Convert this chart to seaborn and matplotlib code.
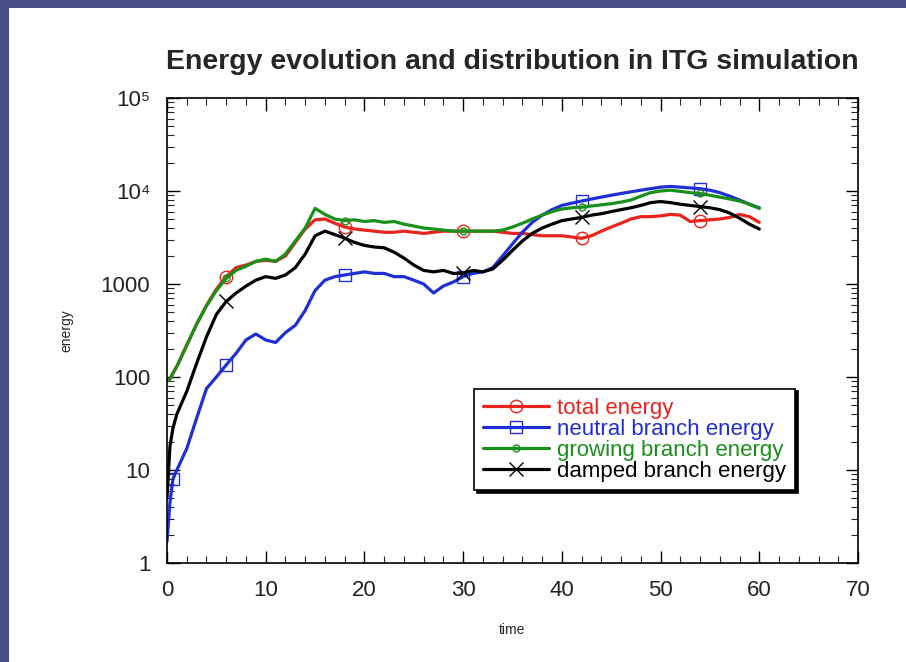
import numpy as np
import pandas as pd
import matplotlib
matplotlib.use("Agg")
import matplotlib.pyplot as plt
from matplotlib.patches import Rectangle
from matplotlib.ticker import LogLocator, FixedLocator, FixedFormatter, MultipleLocator
import seaborn as sns

# ---- data -------------------------------------------------------------
time = [0, 0.3, 0.6, 1, 2, 3, 4, 5, 6, 7, 8, 9, 10, 11, 12, 13, 14, 15, 16, 17,
        18, 19, 20, 21, 22, 23, 24, 25, 26, 27, 28, 29, 30, 31, 32, 33, 34, 35,
        36, 37, 38, 39, 40, 41, 42, 43, 44, 45, 46, 47, 48, 49, 50, 51, 52, 53,
        54, 55, 56, 57, 58, 59, 60]

total_energy = [90, 95, 110, 130, 220, 370, 590, 880, 1200, 1500, 1600, 1750, 1800,
                1750, 2000, 2800, 3900, 4900, 5000, 4500, 4100, 3900, 3800, 3700,
                3600, 3600, 3700, 3600, 3500, 3600, 3700, 3700, 3700, 3700, 3700,
                3700, 3600, 3500, 3500, 3400, 3300, 3300, 3300, 3200, 3100, 3300,
                3700, 4100, 4500, 5000, 5300, 5300, 5400, 5600, 5500, 4700, 4800,
                4900, 5000, 5200, 5600, 5300, 4600]

neutral_energy = [1.7, 4.5, 8, 10, 17, 36, 75, 100, 135, 180, 250, 290, 250, 235,
                  300, 360, 520, 850, 1100, 1200, 1250, 1300, 1350, 1300, 1300, 1200,
                  1200, 1100, 1000, 800, 950, 1050, 1200, 1300, 1350, 1500, 2000,
                  2700, 3600, 4600, 5500, 6300, 7000, 7400, 7800, 8200, 8600, 9000,
                  9400, 9800, 10200, 10600, 11000, 11200, 11000, 10800, 10600, 10200,
                  9600, 8800, 8000, 7200, 6600]

growing_energy = [90, 95, 110, 130, 220, 370, 580, 850, 1150, 1400, 1550, 1750, 1850,
                  1750, 2100, 2900, 4000, 6500, 5600, 5000, 4800, 4900, 4700, 4800,
                  4600, 4700, 4400, 4200, 4000, 3900, 3800, 3700, 3700, 3700, 3700,
                  3700, 3800, 4100, 4500, 5000, 5500, 6000, 6400, 6600, 6700, 6900,
                  7100, 7300, 7600, 8000, 8800, 9600, 10000, 10200, 9900, 9600, 9400,
                  9000, 8600, 8200, 7800, 7200, 6500]

damped_energy = [5, 18, 28, 40, 70, 140, 270, 470, 650, 800, 950, 1100, 1200, 1150,
                 1250, 1500, 2100, 3300, 3700, 3400, 3100, 2800, 2600, 2500, 2450,
                 2200, 1900, 1600, 1400, 1350, 1400, 1300, 1300, 1400, 1350, 1450,
                 1800, 2300, 2900, 3500, 4000, 4400, 4800, 5000, 5200, 5500, 5700,
                 6000, 6300, 6600, 7000, 7500, 7700, 7500, 7200, 7000, 6800, 6600,
                 6300, 5800, 5100, 4400, 3900]

series_labels = ["total energy", "neutral branch energy",
                 "growing branch energy", "damped branch energy"]
series_colors = ["#e8241c", "#1f2fd6", "#1a8f1a", "#000000"]
marker_times = [6, 18, 30, 42, 54]

x_ticks = [0, 10, 20, 30, 40, 50, 60, 70]
y_ticks = [1, 10, 100, 1000, 1e4, 1e5]
y_tick_labels = ["1", "10", "100", "1000", "10\u2074", "10\u2075"]

# ---- style ------------------------------------------------------------
sns.set_theme(style="white")
plt.rcParams["font.family"] = ["Liberation Sans", "DejaVu Sans"]

fig = plt.figure(figsize=(9.06, 6.62), dpi=100)
fig.patch.set_facecolor("white")

# slide frame strips along the left and top edges
frame_color = "#4b4f87"
fig.add_artist(Rectangle((0, 0), 9 / 906, 1, transform=fig.transFigure,
                         facecolor=frame_color, edgecolor="none", zorder=0))
fig.add_artist(Rectangle((0, 1 - 8 / 662), 1, 8 / 662, transform=fig.transFigure,
                         facecolor=frame_color, edgecolor="none", zorder=0))

ax = fig.add_axes([167 / 906, 1 - 563 / 662, 691 / 906, 465 / 662])
ax.set_facecolor("white")

df = pd.DataFrame({
    "time": time,
    series_labels[0]: total_energy,
    series_labels[1]: neutral_energy,
    series_labels[2]: growing_energy,
    series_labels[3]: damped_energy,
})

mark_idx = [time.index(t) for t in marker_times]
marker_specs = [
    dict(marker="o", markersize=9, markevery=mark_idx),
    dict(marker="s", markersize=9, markevery=[time.index(0.6)] + mark_idx),
    dict(marker="o", markersize=5, markevery=mark_idx),
    dict(marker="x", markersize=10, markevery=mark_idx),
]

for label, color, spec in zip(series_labels, series_colors, marker_specs):
    sns.lineplot(data=df, x="time", y=label, ax=ax, color=color, linewidth=2.3,
                 label=label, markerfacecolor="none", markeredgecolor=color,
                 markeredgewidth=1.0, **spec)

ax.set_yscale("log")
ax.set_xlim(0, 70)
ax.set_ylim(1, 1e5)

ax.xaxis.set_major_locator(FixedLocator(x_ticks))
ax.xaxis.set_minor_locator(MultipleLocator(2))
ax.yaxis.set_major_locator(FixedLocator(y_ticks))
ax.yaxis.set_major_formatter(FixedFormatter(y_tick_labels))
ax.yaxis.set_minor_locator(LogLocator(base=10, subs=np.arange(2, 10)))

ax.tick_params(axis="both", which="major", direction="in", length=9, width=1.0,
               top=True, right=True, bottom=True, left=True,
               labelsize=16, colors="black", pad=12)
ax.tick_params(axis="both", which="minor", direction="in", length=5, width=0.8,
               top=True, right=True, bottom=True, left=True)
for lab in ax.get_yticklabels() + ax.get_xticklabels():
    lab.set_color("#222222")

for side in ax.spines.values():
    side.set_color("black")
    side.set_linewidth(1.2)

ax.set_xlabel("time", fontsize=10, labelpad=16)
ax.set_ylabel("energy", fontsize=10, labelpad=20)
ax.set_title("Energy evolution and distribution in ITG simulation",
             fontsize=20.5, fontweight="bold", pad=21)

leg = ax.legend(loc="upper left", bbox_to_anchor=(0.444, 0.375), fontsize=16,
                frameon=True, fancybox=False, shadow={"color": "black", "alpha": 1},
                handlelength=3.0, handletextpad=0.35, labelspacing=0.0,
                borderpad=0.4, borderaxespad=0)
leg.get_frame().set_edgecolor("black")
leg.get_frame().set_linewidth(1.2)
for text, color in zip(leg.get_texts(), series_colors):
    text.set_color(color)

fig.savefig("out.png", dpi=100, facecolor=fig.get_facecolor())
